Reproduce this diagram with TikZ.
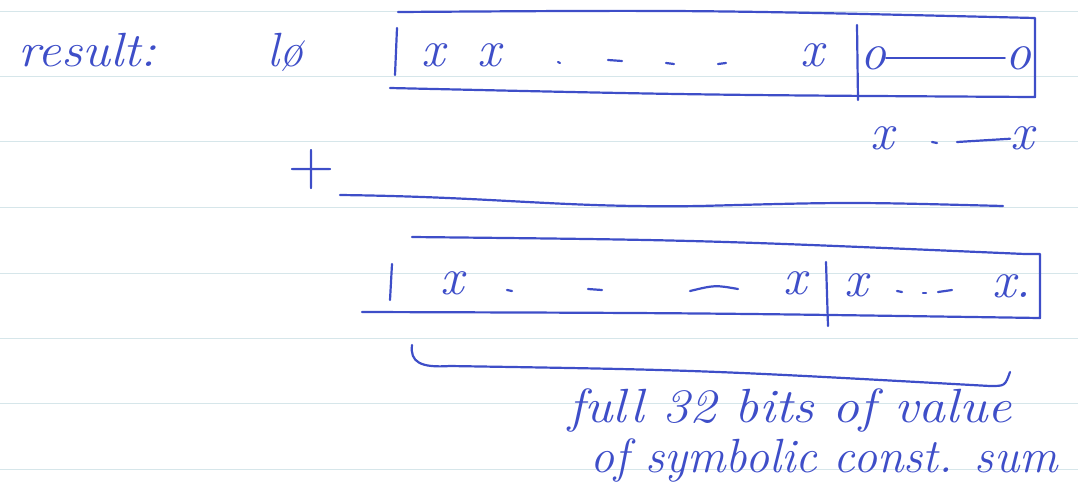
\documentclass[tikz,border=0pt]{standalone}
\usepackage{tikz}
\usetikzlibrary{positioning,calc}
\definecolor{inkblue}{RGB}{62,78,200}
\definecolor{rulecolor}{RGB}{214,230,234}

\begin{document}
\begin{tikzpicture}[x=1pt,y=-1pt,
  ink/.style={draw=inkblue, line width=2.2pt, line cap=round, line join=round},
  hand/.style={text=inkblue, inner sep=0pt, font=\fontsize{52}{56}\selectfont\itshape},
  word/.style={text=inkblue, inner sep=0pt, font=\fontsize{48}{52}\selectfont\itshape},
  note/.style={text=inkblue, inner sep=0pt, font=\fontsize{48}{52}\selectfont\itshape},
  rule/.style={draw=rulecolor, line width=1pt}]

\useasboundingbox (0,0) rectangle (1078,496);

% ================= PAPER RULES =================
\foreach \y in {11,76,141,207,273,338,403,469}
  \draw[rule] (0,\y) -- (1078,\y);

% ================= LABELS =================
\node[word, anchor=west] (result) at (18,50) {\scalebox{1.1}[1]{result:}};
\node[word] (lo) at (285,52) {l\o};
\node[word, font=\fontsize{64}{68}\selectfont] (plus) at (312,170) {+};

% ================= TOP BOX =================
\draw[ink] (398,12) .. controls (700,10) .. (1035,18) -- (1035,97)
  .. controls (700,95) .. (390,88);
\draw[ink] (397,28) -- (395,75);
\draw[ink] (857,25) -- (858,100);

\node[hand] (a1) at (433,55) {x};
\node[hand] (a2) at (489,55) {x};
\draw[ink] (558,62) -- (560,63);
\draw[ink] (608,60) -- (622,61);
\draw[ink] (666,63) -- (674,64);
\draw[ink] (718,64) -- (726,63);
\node[hand] (a3) at (812,55) {x};

\node[hand] (o1) at (873,58) {o};
\node[hand] (o2) at (1018,58) {o};
\draw[ink] (o1) -- (o2);

% ================= ADDEND =================
\node[hand] (b1) at (882,138) {x};
\draw[ink] (932,142) -- (937,143);
\node[hand] (b2) at (1022,138) {x};
\draw[ink] (957,142) -- (b2);

\draw[ink] (340,195) .. controls (500,197) and (560,208) .. (700,206)
  .. controls (850,202) .. (1003,206);

% ================= SUM BOX =================
\draw[ink] (412,237) .. controls (700,240) .. (1025,254) -- (1040,254)
  -- (1040,318) .. controls (700,313) .. (362,312);
\draw[ink] (392,264) -- (390,300);
\draw[ink] (826,262) -- (828,326);

\node[hand] (c1) at (452,283) {x};
\draw[ink] (507,290) -- (512,291);
\draw[ink] (588,289) -- (602,290);
\draw[ink] (690,291) .. controls (715,285) .. (738,289);
\node[hand] (c2) at (795,283) {x};
\node[hand] (d1) at (856,285) {x};
\draw[ink] (897,291) -- (902,292);
\draw[ink] (923,293) -- (926,293);
\draw[ink] (938,292) -- (952,290);
\node[hand] (d2) at (1012,286) {x.};

% ================= BRACE =================
\coordinate (brl) at (412,345);
\coordinate (brr) at (1010,372);
\draw[ink] (brl) .. controls (410,362) and (420,368) .. (450,366)
  .. controls (700,370) .. (990,386) .. controls (1005,386) .. (brr);

% ================= NOTE =================
\node[note, anchor=west] (note1) at (568,410) {\scalebox{1.12}[1]{full 32 bits of value}};
\node[note, anchor=west] (note2) at (590,460) {of symbolic const. sum};

\end{tikzpicture}
\end{document}
